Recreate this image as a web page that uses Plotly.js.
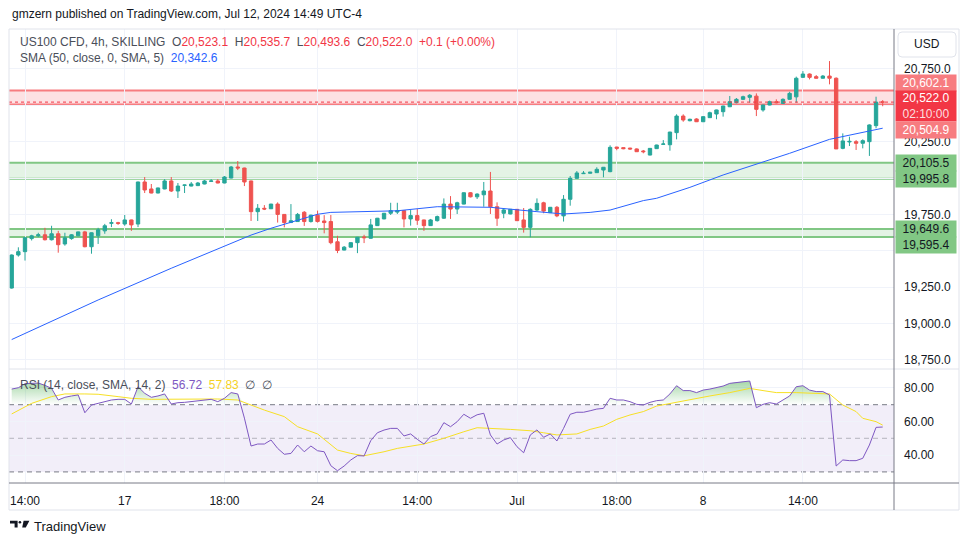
<!DOCTYPE html>
<html><head><meta charset="utf-8">
<script src="https://cdn.plot.ly/plotly-3.0.1.min.js"></script>
<style>html,body{margin:0;padding:0;background:#fff;}#chart{width:970px;height:545px;}</style>
</head><body><div id="chart"></div>
<script>
// ---- data ----
const opens = [19244,19471,19494,19584,19603,19610,19576,19617,19547,19584,
19603,19630,19528,19603,19637,19689,19693,19684,19712,19684,
19973,19925,19897,19925,19980,19911,19950,19945,19948,19959,
19977,19980,19966,20000,20076,20069,19980,19769,19792,19789,
19821,19750,19694,19701,19765,19701,19745,19705,19701,19562,
19505,19525,19556,19595,19586,19673,19719,19758,19766,19776,
19719,19742,19712,19673,19707,19724,19821,19787,19821,19899,
19871,19885,19911,19803,19758,19753,19785,19712,19661,19780,
19830,19762,19799,19740,19854,19998,20030,20033,20037,20055,
20044,20213,20209,20206,20200,20186,20158,20202,20232,20229,
20312,20426,20394,20406,20387,20415,20440,20456,20490,20518,
20541,20555,20563,20468,20502,20525,20513,20541,20558,20692,
20715,20697,20686,20701,20686,20204,20248,20250,20239,20250,
20360,20523.1];
const highs = [19475,19524,19592,19610,19624,19658,19672,19637,19624,19615,
19632,19637,19626,19658,19685,19717,19699,19746,19714,19975,
20007,19959,19934,19993,20007,19966,19954,19973,19973,19986,
19993,19993,20014,20083,20117,20071,19982,19821,19814,19823,
19833,19752,19821,19760,19773,19748,19776,19745,19746,19603,
19533,19558,19595,19610,19719,19726,19760,19830,19830,19780,
19780,19787,19714,19719,19742,19860,19876,19837,19901,19904,
19895,19973,20042,19833,19794,19787,19787,19794,19792,19860,
19837,19801,19808,19883,20014,20048,20048,20042,20074,20076,
20225,20215,20211,20208,20204,20193,20206,20229,20261,20318,
20438,20438,20408,20411,20424,20456,20470,20497,20564,20550,
20566,20577,20582,20504,20532,20541,20548,20593,20697,20735,
20719,20708,20708,20804,20692,20307,20284,20261,20266,20369,
20559,20535.7];
const lows = [19240,19460,19433,19571,19594,19571,19571,19487,19535,19576,
19601,19524,19480,19547,19617,19663,19678,19672,19637,19663,
19897,19895,19895,19923,19904,19863,19897,19943,19945,19957,
19973,19964,19964,19998,20055,19945,19705,19705,19780,19787,
19694,19661,19692,19699,19671,19694,19694,19620,19545,19484,
19503,19523,19484,19553,19584,19671,19717,19746,19753,19661,
19673,19678,19637,19671,19701,19719,19719,19753,19819,19867,
19856,19803,19753,19671,19724,19751,19707,19625,19593,19773,
19758,19760,19731,19701,19810,19996,20028,20031,20035,20005,
20040,20191,20198,20195,20179,20170,20156,20200,20229,20188,
20266,20387,20390,20385,20385,20413,20404,20422,20488,20513,
20536,20518,20426,20456,20500,20513,20511,20539,20518,20690,
20678,20684,20684,20644,20200,20198,20220,20193,20204,20152,
20342,20493.6];
const closes = [19471,19494,19590,19603,19610,19576,19617,19542,19589,19610,
19630,19528,19624,19644,19672,19693,19689,19712,19678,19973,
19918,19897,19932,19980,19911,19945,19952,19959,19966,19980,
19980,19966,20007,20076,20069,19973,19769,19792,19787,19821,
19750,19694,19707,19750,19701,19745,19701,19694,19556,19502,
19525,19556,19593,19590,19678,19724,19758,19776,19776,19719,
19742,19710,19673,19712,19735,19821,19787,19830,19899,19871,
19890,19911,19803,19724,19781,19785,19707,19661,19785,19826,
19773,19799,19740,19854,19998,20035,20033,20040,20060,20074,
20211,20204,20202,20200,20181,20181,20204,20227,20234,20316,
20426,20399,20404,20387,20422,20449,20468,20495,20525,20541,
20559,20569,20472,20502,20525,20518,20541,20582,20686,20715,
20692,20686,20701,20686,20200,20255,20252,20239,20257,20365,
20521.9,20522.0];

const smaIdx  = [0,13,24,36,39,46,48,58,64,70,72,79,83,87,90,95,97,102,107,117,123,131];
const smaVals = [18890,19162,19380,19608,19655,19751,19764,19775,19803,19803,19799,19769,19753,19764,19780,19845,19861,19936,20021,20170,20266,20342.6];

const rsiVals = [79.3,80.1,82.5,82.9,82.9,81.5,79.7,72.8,74.4,75.2,
75.8,65.2,69.8,70.8,71.8,72.8,73.2,73.2,70.4,80.7,
76.8,74.4,75.2,76.4,70.4,71.2,71.4,71.8,72.2,72.8,
73.2,71.8,73.8,77.2,76.4,62.0,45.4,46.6,46.6,49.0,
44.0,40.5,41.0,46.0,42.0,45.4,42.6,42.0,33.7,30.7,
33.5,37.1,39.7,39.5,48.6,53.3,54.9,55.9,55.9,51.4,
52.6,49.4,46.6,51.0,52.6,59.3,56.9,59.9,64.3,61.9,
64.0,64.9,52.0,46.6,49.0,50.4,45.0,41.4,52.0,55.0,
50.6,52.6,48.4,55.9,64.3,65.5,65.5,66.4,67.4,67.8,
73.8,72.8,72.8,71.8,70.2,69.8,71.4,72.4,72.8,76.4,
81.3,78.4,78.4,77.2,78.7,79.3,80.1,81.1,82.7,83.3,
83.7,84.1,68.2,70.2,71.2,70.4,72.8,75.2,80.7,81.3,
78.7,77.8,77.8,75.8,33.5,37.1,36.7,36.7,38.1,46.0,
56.5,56.72];

const rsiMaIdx  = [0,3,6,8,11,13,16,18,21,26,31,34,36,38,41,43,46,49,51,53,56,58,62,65,68,70,75,78,80,82,85,87,89,91,93,95,97,99,101,103,105,108,110,111,113,115,118,120,123,125,127,128,130,131];
const rsiMaVals = [64.5,70.8,74.8,76.4,76.4,76.2,74.8,73.8,73.2,73.2,73.4,72.8,69.8,66.8,62.9,56.9,52.6,43.0,41.0,39.6,42.0,44.0,46.6,50.0,53.9,56.3,55.3,54.5,53.3,52.0,52.6,55.3,57.3,61.3,63.9,65.9,69.2,70.8,72.4,73.8,75.2,77.2,78.7,79.7,78.4,77.2,77.2,76.8,76.4,69.8,65.9,61.9,59.9,57.83];

const xTickIdx  = [2,17,32,46,61,76,91,104,119];
const xTickText = ["14:00","17","18:00","24","14:00","Jul","18:00","8","14:00"];
const priceTicks = [18750,19000,19250,19500,19750,20000,20250,20500,20750];
// labels hidden behind the price boxes in the original
const priceTickText = ["18,750.0","19,000.0","19,250.0","","19,750.0","","20,250.0","","20,750.0"];
const rsiTicks = [40,60,80];
const rsiLevels = [30,50,70];
const redZone = [20504.9, 20602.1];
const greenZoneHigh = [19995.8, 20105.5];
const greenZoneLow = [19595.4, 19649.6];
const lastPrice = 20522.0;
const countdown = "02:10:00";

// ---- layout helpers (pixel -> paper) ----
const PL = 9, PR = 894, PT = 29, PB = 483;
const PX = x => (x - PL) / (PR - PL);
const PY = y => (PB - y) / (PB - PT);
const FONT = 'Liberation Sans, Arial, sans-serif';
const TXT = '#131722';
const fmt1 = v => v.toLocaleString('en-US', {minimumFractionDigits: 1, maximumFractionDigits: 1});
const fmt2 = v => v.toFixed(2);

const idx = opens.map((_, i) => i);
const n = opens.length - 1;

const traces = [
  {type: 'candlestick', x: idx, open: opens, high: highs, low: lows, close: closes,
   xaxis: 'x2', yaxis: 'y', hoverinfo: 'skip', whiskerwidth: 0,
   increasing: {line: {color: '#26a69a', width: 1}, fillcolor: '#26a69a'},
   decreasing: {line: {color: '#ef5350', width: 1}, fillcolor: '#ef5350'}},
  {type: 'scatter', mode: 'lines', x: smaIdx, y: smaVals, xaxis: 'x2', yaxis: 'y',
   line: {color: '#2962ff', width: 1}, hoverinfo: 'skip'},
  {type: 'scatter', mode: 'lines', x: idx, y: idx.map(() => rsiLevels[2]), xaxis: 'x', yaxis: 'y2',
   line: {width: 0, color: 'rgba(0,0,0,0)'}, hoverinfo: 'skip'},
  {type: 'scatter', mode: 'lines', x: idx, y: rsiVals.map(v => Math.max(v, rsiLevels[2])), xaxis: 'x', yaxis: 'y2',
   line: {width: 0, color: 'rgba(0,0,0,0)'}, fill: 'tonexty',
   fillgradient: {type: 'vertical', colorscale: [[0, 'rgba(76,175,80,0)'], [1, 'rgba(76,175,80,0.5)']]},
   hoverinfo: 'skip'},
  {type: 'scatter', mode: 'lines', x: rsiMaIdx, y: rsiMaVals, xaxis: 'x', yaxis: 'y2',
   line: {color: '#f7e025', width: 1}, hoverinfo: 'skip'},
  {type: 'scatter', mode: 'lines', x: idx, y: rsiVals, xaxis: 'x', yaxis: 'y2',
   line: {color: '#7e57c2', width: 1}, hoverinfo: 'skip'}
];

const shapes = [];
// RSI band & levels
shapes.push({type: 'rect', xref: 'paper', yref: 'y2', x0: 0, x1: 1, y0: rsiLevels[0], y1: rsiLevels[2],
  fillcolor: 'rgba(126,87,194,0.1)', line: {width: 0}, layer: 'between'});
rsiLevels.forEach((lv, k) => shapes.push({type: 'line', xref: 'paper', yref: 'y2', x0: 0, x1: 1, y0: lv, y1: lv,
  line: {color: k === 1 ? 'rgba(120,123,134,0.5)' : '#787b86', width: 1, dash: '5px,4px'}, layer: 'between'}));
// zones
function zone(z, fill, stroke) {
  shapes.push({type: 'rect', xref: 'paper', yref: 'y', x0: 0, x1: 1, y0: z[0], y1: z[1],
    fillcolor: fill, line: {width: 0}, layer: 'between'});
  z.forEach(v => shapes.push({type: 'line', xref: 'paper', yref: 'y', x0: 0, x1: 1, y0: v, y1: v,
    line: {color: stroke, width: 2}, layer: 'between'}));
}
zone(redZone, 'rgba(242,54,69,0.15)', '#f77c80');
zone(greenZoneHigh, 'rgba(76,175,80,0.15)', '#81c784');
zone(greenZoneLow, 'rgba(76,175,80,0.15)', '#81c784');
shapes.push({type: 'line', xref: 'paper', yref: 'y', x0: 0, x1: 1, y0: lastPrice, y1: lastPrice,
  line: {color: '#f23645', width: 1, dash: 'dot'}, layer: 'above'});
// frame lines
shapes.push({type: 'rect', xref: 'paper', yref: 'paper', x0: PX(9), x1: PX(959), y0: PY(510), y1: PY(29),
  line: {color: '#e0e3eb', width: 1}, fillcolor: 'rgba(0,0,0,0)', layer: 'above'});
shapes.push({type: 'line', xref: 'paper', yref: 'paper', x0: PX(9), x1: PX(959), y0: PY(369), y1: PY(369),
  line: {color: '#e0e3eb', width: 1}, layer: 'above'});
shapes.push({type: 'line', xref: 'paper', yref: 'paper', x0: 1, x1: 1, y0: PY(510), y1: PY(29),
  line: {color: '#787b86', width: 1}, layer: 'above'});
shapes.push({type: 'line', xref: 'paper', yref: 'paper', x0: PX(9), x1: PX(959), y0: 0, y1: 0,
  line: {color: '#787b86', width: 1}, layer: 'above'});
// USD button (rounded)
(function () {
  const x0 = 898, x1 = 956, y0 = 32, y1 = 57, r = 4;
  const p = (x, y) => PX(x) + ',' + PY(y);
  shapes.push({type: 'path', xref: 'paper', yref: 'paper',
    path: 'M' + p(x0 + r, y0) + ' L' + p(x1 - r, y0) + ' Q' + p(x1, y0) + ' ' + p(x1, y0 + r) +
      ' L' + p(x1, y1 - r) + ' Q' + p(x1, y1) + ' ' + p(x1 - r, y1) + ' L' + p(x0 + r, y1) +
      ' Q' + p(x0, y1) + ' ' + p(x0, y1 - r) + ' L' + p(x0, y0 + r) + ' Q' + p(x0, y0) + ' ' + p(x0 + r, y0) + ' Z',
    line: {color: '#e0e3eb', width: 1}, fillcolor: '#ffffff', layer: 'above'});
})();
// TradingView logo
(function () {
  const p = (x, y) => PX(x) + ',' + PY(y);
  shapes.push({type: 'path', xref: 'paper', yref: 'paper',
    path: 'M' + p(10, 520.8) + ' L' + p(17.6, 520.8) + ' L' + p(17.6, 527.4) + ' L' + p(14.6, 527.4) +
      ' L' + p(14.6, 523.6) + ' L' + p(10, 523.6) + ' Z', fillcolor: TXT, line: {width: 0}});
  shapes.push({type: 'circle', xref: 'paper', yref: 'paper', x0: PX(18.6), x1: PX(21.2), y0: PY(523.6), y1: PY(521),
    fillcolor: TXT, line: {width: 0}});
  shapes.push({type: 'path', xref: 'paper', yref: 'paper',
    path: 'M' + p(23.6, 520.8) + ' L' + p(29.4, 520.8) + ' L' + p(25.8, 527.4) + ' L' + p(22.2, 527.4) + ' Z',
    fillcolor: TXT, line: {width: 0}});
})();

const ann = [];
function textAt(x, y, text, size, color, anchor) {
  ann.push({xref: 'paper', yref: 'paper', x: PX(x), y: PY(y), text: text, showarrow: false,
    xanchor: anchor || 'left', yanchor: 'middle', font: {family: FONT, size: size, color: color || TXT}});
}
textAt(10, 14, 'gmzern published on TradingView.com, Jul 12, 2024 14:49 UTC-4', 12, TXT);
const chg = closes[n] - closes[n - 1];
const pct = chg / closes[n - 1] * 100;
const sgn = v => (v >= 0 ? '+' : '');
const red = s => '<span style="color:#f23645">' + s + '</span>';
textAt(18, 42, 'US100 CFD, 4h, SKILLING&nbsp;&nbsp;O' + red(fmt1(opens[n])) + '&nbsp;&nbsp;H' + red(fmt1(highs[n])) +
  '&nbsp;&nbsp;L' + red(fmt1(lows[n])) + '&nbsp;&nbsp;C' + red(fmt1(closes[n])) + '&nbsp;&nbsp;' +
  red(sgn(chg) + chg.toFixed(1) + ' (' + sgn(pct) + pct.toFixed(2) + '%)'), 12, '#4a4e59');
textAt(18, 58, 'SMA (50, close, 0, SMA, 5)&nbsp;&nbsp;<span style="color:#2962ff">' + fmt1(smaVals[smaVals.length - 1]) + '</span>', 12, '#4a4e59');
textAt(18, 385, 'RSI (14, close, SMA, 14, 2)&nbsp;&nbsp;<span style="color:#7e57c2">' + fmt2(rsiVals[n]) +
  '</span>&nbsp;&nbsp;<span style="color:#f5d21f">' + fmt2(rsiMaVals[rsiMaVals.length - 1]) + '</span>&nbsp;&nbsp;∅&nbsp;&nbsp;∅', 12, '#4a4e59');
textAt(927, 44.5, 'USD', 12, TXT, 'center');
textAt(32, 526, 'TradingView', 13, TXT, 'left');

function priceBox(v, shift, bg, fg, text, h) {
  ann.push({xref: 'paper', yref: 'y', x: PX(895), y: v, yshift: shift, xanchor: 'left', yanchor: 'middle',
    text: text || fmt1(v), showarrow: false, bgcolor: bg, width: 58, height: h || 14, borderpad: 1, align: 'center',
    font: {family: FONT, size: 12, color: fg}});
}
priceBox(redZone[1], 7.4, '#f77c80', '#ffffff');
priceBox(lastPrice, -4, '#f23645', '#ffffff', fmt1(lastPrice) + '<br><span style="color:rgba(255,255,255,0.85)">' + countdown + '</span>', 28);
priceBox(redZone[0], -25.5, '#f77c80', '#ffffff');
priceBox(greenZoneHigh[1], 0, '#81c784', TXT);
priceBox(greenZoneHigh[0], 0, '#81c784', TXT);
priceBox(greenZoneLow[1], 0, '#81c784', TXT);
priceBox(greenZoneLow[0], -7.7, '#81c784', TXT);

const grid = '#f0f3fa';
const layout = {
  width: 970, height: 545, paper_bgcolor: '#ffffff', plot_bgcolor: '#ffffff',
  margin: {l: PL, r: 970 - PR, t: PT, b: 545 - PB, pad: 0},
  showlegend: false, boxgap: 0.28, dragmode: false,
  font: {family: FONT, size: 12, color: TXT},
  xaxis: {anchor: 'y2', domain: [0, 1], range: [-0.406, 132.7], tickmode: 'array', tickvals: xTickIdx, ticktext: xTickText,
    showgrid: true, gridcolor: grid, zeroline: false, showline: false, ticks: '', ticklabelstandoff: 9,
    tickfont: {family: FONT, size: 12, color: TXT}, rangeslider: {visible: false}, fixedrange: true},
  xaxis2: {anchor: 'y', matches: 'x', range: [-0.406, 132.7], tickmode: 'array', tickvals: xTickIdx, showticklabels: false,
    showgrid: true, gridcolor: grid, zeroline: false, ticks: '', rangeslider: {visible: false}, fixedrange: true},
  yaxis: {domain: [PY(369), 1], range: [18687.6, 21024.4], side: 'right', anchor: 'x2', tickmode: 'array', tickvals: priceTicks,
    ticktext: priceTickText, showgrid: true, gridcolor: grid, zeroline: false, ticks: '', ticklabelstandoff: 9,
    tickfont: {family: FONT, size: 12, color: TXT}, fixedrange: true},
  yaxis2: {domain: [0, PY(370)], range: [23.4, 90.65], side: 'right', anchor: 'x', tickmode: 'array', tickvals: rsiTicks,
    tickformat: '.2f', showgrid: true, gridcolor: grid, zeroline: false, ticks: '', ticklabelstandoff: 9,
    tickfont: {family: FONT, size: 12, color: TXT}, fixedrange: true},
  shapes: shapes, annotations: ann
};
Plotly.newPlot('chart', traces, layout, {displayModeBar: false, staticPlot: true});
</script></body></html>
